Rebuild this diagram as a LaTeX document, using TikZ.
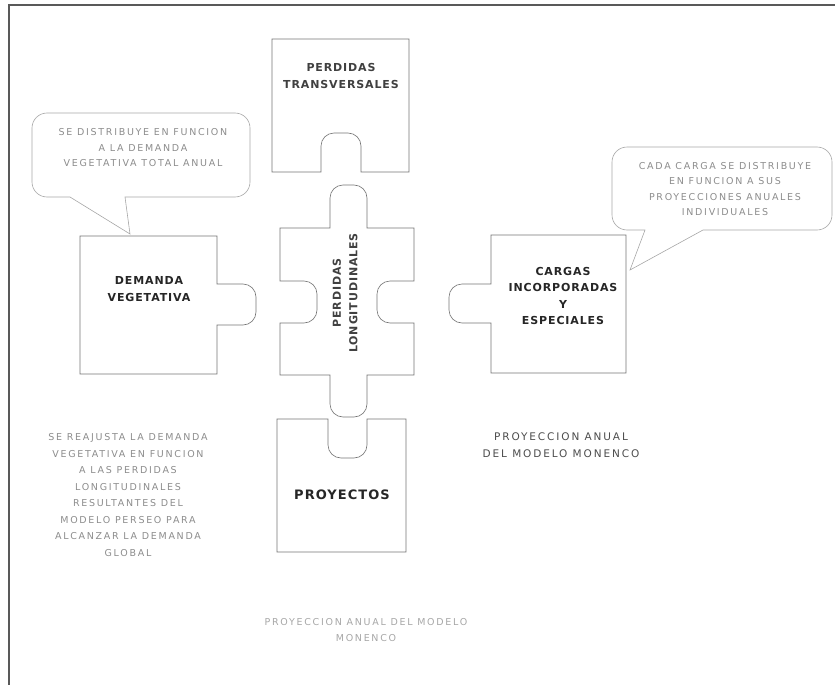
\documentclass[tikz,border=0pt]{standalone}
\usepackage{fontspec}
\setmainfont{DejaVu Sans}
\newfontfamily\spaced{DejaVu Sans}[LetterSpace=8]
\newfontfamily\airy{DejaVu Sans}[LetterSpace=18]

\begin{document}
\begin{tikzpicture}[x=1pt, y=-1pt,
                piece/.style={draw=black!55, line width=0.6pt},
                bubble/.style={draw=black!35, line width=0.6pt},
                lbl/.style={font=\spaced\bfseries\fontsize{11}{16.5}\selectfont,
                            text=black!85, align=center, inner sep=0pt},
                note/.style={font=\airy\fontsize{9.5}{15.5}\selectfont,
                             text=black!45, align=center, inner sep=0pt},
            ]
                \useasboundingbox (0,0) rectangle (835,685);
                % Frame
                \draw[black!65, line width=1.3pt] (9,685) -- (9,5) -- (835,5);

                % Puzzle pieces
                \draw[piece] (272,39) -- (409,39) -- (409,172) -- (361,172) -- (361,146)
                    arc(0:-90:13) -- (334,133) arc(270:180:13) -- (321,172) -- (272,172) -- cycle;
                \draw[piece] (280,228) -- (330,228) -- (330,198) arc(180:270:13) -- (354,185)
                    arc(270:360:13) -- (367,228) -- (414,228) -- (414,281) -- (390,281)
                    arc(270:180:13) -- (377,310) arc(180:90:13) -- (414,323) -- (414,375)
                    -- (367,375) -- (367,404) arc(0:90:13) -- (343,417) arc(90:180:13)
                    -- (330,375) -- (280,375) -- (280,323) -- (304,323) arc(90:0:13)
                    -- (317,294) arc(0:-90:13) -- (280,281) -- cycle;
                \draw[piece] (277,419) -- (328,419) -- (328,445) arc(180:90:13) -- (354,458)
                    arc(90:0:13) -- (367,419) -- (406,419) -- (406,552) -- (277,552) -- cycle;
                \draw[piece] (80,236) -- (217,236) -- (217,284) -- (243,284) arc(270:360:13)
                    -- (256,312) arc(0:90:13) -- (217,325) -- (217,374) -- (80,374) -- cycle;
                \draw[piece] (491,235) -- (626,235) -- (626,373) -- (491,373) -- (491,323)
                    -- (462,323) arc(90:180:13) -- (449,297) arc(180:270:13) -- (491,284) -- cycle;

                \node[lbl, text=black!75] (trans) at (341,76) {PERDIDAS\\TRANSVERSALES};
                \node[lbl, text=black!75, rotate=90] (longi) at (345,293) {PERDIDAS\\LONGITUDINALES};
                \node[lbl] (dem) at (149,289) {DEMANDA\\VEGETATIVA};
                \node[lbl] (carg) at (563,296) {CARGAS\\INCORPORADAS\\Y\\ESPECIALES};
                \node[lbl, font=\spaced\bfseries\fontsize{13}{16}\selectfont] (proy) at (342,495) {PROYECTOS};

                % Callouts
                \coordinate (tipdem) at (130,234);
                \coordinate (tipcarg) at (630,270);
                \draw[bubble] (47,113) -- (235,113) arc(270:360:15) -- (250,182) arc(0:90:15)
                    -- (125,197) -- (tipdem) -- (70,197) -- (47,197) arc(90:180:15)
                    -- (32,128) arc(180:270:15) -- cycle;
                \draw[bubble] (627,147) -- (817,147) arc(270:360:15) -- (832,215) arc(0:90:15)
                    -- (703,230) -- (tipcarg) -- (645,230) -- (627,230) arc(90:180:15)
                    -- (612,162) arc(180:270:15) -- cycle;
                \node[note] (notedem) at (143,148) {SE DISTRIBUYE EN FUNCION\\A LA DEMANDA\\VEGETATIVA TOTAL ANUAL};
                \node[note] (notecarg) at (725,189) {CADA CARGA SE DISTRIBUYE\\EN FUNCION A SUS\\PROYECCIONES ANUALES\\INDIVIDUALES};

                % Side notes
                \node[note, font=\airy\fontsize{9.5}{16.5}\selectfont] (reajuste) at (128,495)
                    {SE REAJUSTA LA DEMANDA\\VEGETATIVA EN FUNCION\\A LAS PERDIDAS\\LONGITUDINALES\\RESULTANTES DEL\\MODELO PERSEO PARA\\ALCANZAR LA DEMANDA\\GLOBAL};
                \node[note, text=black!70, font=\airy\fontsize{10.5}{16.5}\selectfont] (monenco) at (561,445)
                    {PROYECCION ANUAL\\DEL MODELO MONENCO};
                \node[note, text=black!35] (monencob) at (366,630) {PROYECCION ANUAL DEL MODELO\\MONENCO};
            \end{tikzpicture}
\end{document}
